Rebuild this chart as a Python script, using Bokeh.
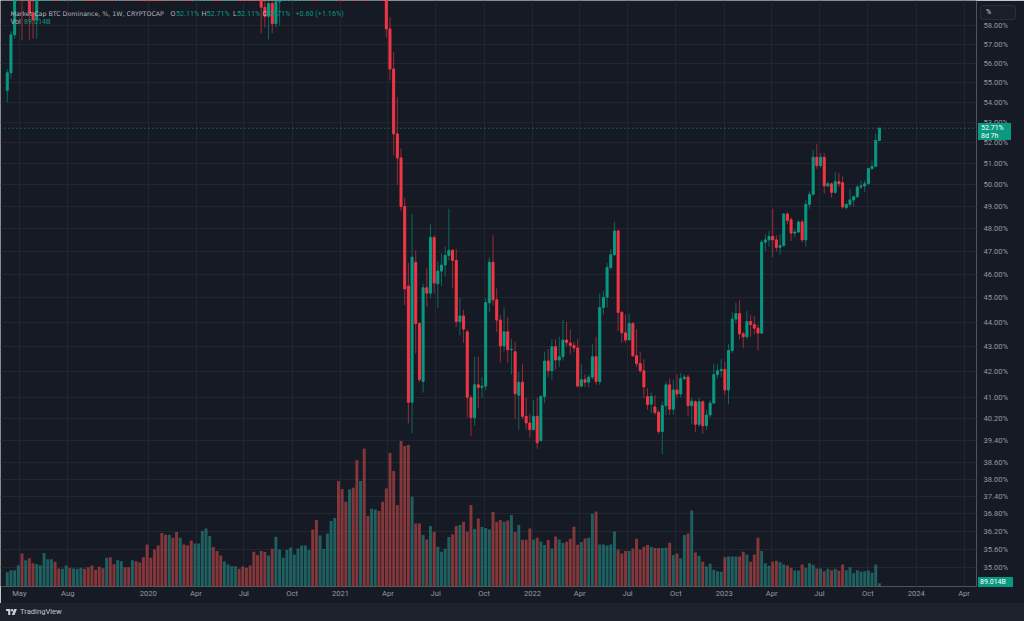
import datetime as dt
from bokeh.plotting import figure
from bokeh.models import (ColumnDataSource, Range1d, LinearScale, FixedTicker,
                          PrintfTickFormatter, Span, Label, Div)
from bokeh.layouts import column
from bokeh.embed import file_html
from bokeh.resources import INLINE

# ---------------- data (weekly bars, CRYPTOCAP:BTC.D) ----------------
first_week = dt.datetime(2019, 4, 8)

opens = [54.6, 55.5, 57.5, 59.8, 60.4, 59.9, 60.6, 58.7, 58.3, 60.8,
         62.0, 63.1, 63.9, 64.5, 63.7, 62.9, 64.3, 65.8, 65.1, 66.6,
         68.0, 69.2, 68.7, 68.3, 67.8, 67.1, 66.6, 66.0, 66.9, 66.4,
         65.9, 66.5, 67.3, 66.9, 66.4, 67.6, 67.0, 66.3, 65.6, 64.9,
         64.1, 63.4, 62.8, 62.3, 61.9, 62.7, 62.2, 61.8, 63.2, 62.7,
         62.3, 61.9, 63.0, 63.9, 64.7, 65.4, 66.1, 65.6, 65.0, 64.5,
         65.1, 65.7, 66.2, 66.8, 66.1, 65.3, 64.5, 63.6, 62.7, 61.8,
         59.0, 58.5, 59.2, 58.1, 59.3, 59.9, 60.6, 61.3, 62.0, 62.8,
         63.5, 64.2, 64.9, 65.5, 64.3, 63.2, 64.6, 66.5, 68.4, 69.6,
         70.8, 69.0, 65.5, 62.8, 64.0, 61.9, 60.8, 62.0, 61.2, 60.5,
         61.4, 62.0, 61.0, 60.0, 57.82, 55.7, 52.43, 51.27, 49.0, 45.5,
         40.83, 46.52, 43.94, 41.63, 45.43, 45.2, 47.6, 45.6, 46.14, 46.4,
         46.82, 47.04, 46.6, 44.02, 44.25, 43.6, 41.0, 40.25, 41.5, 41.4,
         41.45, 44.8, 46.52, 44.92, 44.08, 43.03, 43.6, 42.88, 42.8, 41.1,
         41.6, 40.3, 40.05, 39.8, 40.3, 39.4, 41.05, 42.43, 42.05, 43.0,
         42.47, 42.6, 43.27, 43.15, 43.05, 42.95, 41.45, 41.7, 41.6, 41.8,
         42.6, 41.63, 44.6, 45.03, 46.3, 46.85, 47.9, 44.4, 43.56, 43.27,
         43.94, 42.64, 42.33, 42.05, 41.05, 40.76, 40.65, 40.45, 39.73, 40.7,
         41.5, 40.57, 41.3, 41.15, 41.74, 41.8, 40.7, 40.85, 40.0, 40.85,
         39.95, 40.35, 40.8, 41.9, 42.05, 42.1, 41.3, 42.85, 44.12, 44.35,
         43.52, 43.4, 44.02, 43.9, 43.75, 43.55, 47.4, 47.5, 47.65, 47.5,
         47.17, 47.25, 48.66, 48.4, 47.8, 47.85, 48.3, 47.5, 49.1, 49.56,
         51.3, 50.9, 51.3, 49.95, 50.05, 49.65, 50.15, 50.1, 48.95, 49.1,
         49.3, 49.45, 49.9, 49.95, 50.05, 50.77, 50.87, 52.11]

highs = [55.7, 57.7, 60.3, 61.0, 60.9, 61.1, 61.0, 59.9, 61.2, 62.4,
         63.6, 64.3, 65.0, 64.9, 64.1, 64.7, 66.2, 66.3, 67.0, 68.4,
         69.7, 69.8, 69.1, 68.7, 68.2, 67.5, 67.0, 67.3, 67.3, 66.8,
         66.9, 67.7, 67.7, 67.3, 68.0, 68.0, 67.4, 66.7, 66.0, 65.3,
         64.5, 63.8, 63.2, 62.7, 63.1, 63.1, 62.6, 63.6, 63.6, 63.1,
         62.7, 63.4, 64.3, 65.1, 65.8, 66.5, 66.5, 66.0, 65.4, 65.5,
         66.1, 66.6, 67.2, 67.2, 66.5, 65.7, 64.9, 64.0, 63.1, 62.2,
         60.0, 59.9, 59.6, 59.8, 60.2, 61.0, 61.7, 62.4, 63.2, 63.9,
         64.6, 65.3, 65.9, 65.9, 64.7, 65.0, 66.9, 68.8, 70.0, 71.3,
         71.2, 69.4, 65.9, 64.4, 64.4, 62.3, 62.4, 62.4, 61.6, 61.8,
         62.4, 62.4, 61.4, 60.6, 58.45, 56.58, 54.25, 51.72, 49.4, 46.5,
         48.66, 47.05, 44.0, 45.6, 46.25, 48.2, 47.7, 46.57, 46.9, 47.2,
         48.9, 47.1, 47.1, 45.0, 44.5, 43.7, 41.1, 42.6, 42.6, 41.8,
         45.0, 46.74, 47.7, 45.4, 44.3, 44.6, 44.2, 43.3, 43.2, 42.0,
         42.3, 41.0, 40.4, 40.9, 41.0, 41.1, 42.8, 42.9, 43.3, 43.3,
         43.4, 44.1, 44.0, 43.7, 43.2, 43.3, 42.3, 41.9, 41.9, 43.1,
         43.4, 45.2, 45.3, 46.5, 47.1, 48.3, 47.95, 44.45, 44.3, 44.35,
         44.0, 43.7, 42.8, 42.5, 41.37, 41.2, 41.1, 40.55, 40.85, 41.63,
         41.75, 41.7, 41.9, 41.95, 41.9, 41.9, 41.0, 40.9, 41.0, 40.9,
         40.55, 40.9, 42.3, 42.3, 42.5, 42.4, 43.1, 44.4, 44.8, 44.9,
         43.6, 44.45, 44.3, 44.25, 43.9, 47.5, 47.75, 47.9, 48.9, 47.7,
         47.75, 48.7, 48.75, 48.5, 48.0, 48.4, 48.4, 49.3, 49.7, 51.67,
         51.95, 51.5, 51.5, 50.15, 50.1, 50.6, 50.55, 50.4, 49.15, 49.8,
         49.5, 50.0, 50.2, 50.2, 50.8, 51.15, 52.45, 52.71]

lows = [54.0, 55.2, 57.3, 59.6, 57.2, 59.5, 57.2, 57.3, 57.3, 60.5,
        61.7, 62.7, 63.5, 63.3, 62.5, 62.6, 64.0, 64.7, 64.8, 66.2,
        67.7, 68.3, 67.9, 67.4, 66.7, 66.2, 65.6, 65.7, 66.0, 65.5,
        65.6, 66.2, 66.5, 66.0, 66.1, 66.6, 65.9, 65.2, 64.5, 63.7,
        63.0, 62.4, 61.9, 61.5, 61.6, 61.8, 61.4, 61.5, 62.3, 61.9,
        61.5, 61.6, 62.7, 63.6, 64.4, 65.1, 65.2, 64.6, 64.1, 64.2,
        64.8, 65.4, 65.9, 65.7, 64.9, 64.1, 63.2, 62.3, 61.4, 57.6,
        57.9, 57.25, 57.6, 57.9, 58.0, 59.5, 60.3, 61.0, 61.7, 62.5,
        63.2, 63.9, 64.6, 63.9, 62.8, 62.9, 64.3, 66.2, 68.1, 69.3,
        68.6, 64.9, 62.2, 62.5, 61.4, 60.3, 60.5, 60.8, 60.1, 60.2,
        61.1, 60.6, 59.6, 57.35, 55.1, 51.38, 50.0, 48.8, 44.7, 40.03,
        39.67, 42.72, 41.6, 41.2, 44.63, 44.99, 45.2, 44.57, 45.5, 45.9,
        46.6, 45.4, 43.8, 43.46, 43.15, 40.25, 39.55, 39.95, 40.6, 41.0,
        41.3, 44.4, 44.7, 43.6, 42.37, 42.8, 42.35, 41.9, 40.2, 39.8,
        40.2, 39.8, 39.5, 39.8, 39.1, 39.35, 40.8, 41.8, 41.7, 42.1,
        42.2, 42.45, 43.0, 42.7, 42.8, 41.4, 41.4, 41.4, 41.4, 41.7,
        41.5, 41.5, 44.3, 44.6, 46.2, 46.8, 43.64, 43.16, 43.16, 43.27,
        42.6, 42.2, 41.95, 40.97, 40.55, 40.42, 40.35, 39.64, 38.9, 40.35,
        40.35, 40.35, 41.0, 41.0, 41.7, 40.3, 40.0, 39.7, 39.9, 39.64,
        39.8, 40.25, 40.78, 41.75, 41.8, 41.1, 40.75, 42.75, 43.95, 43.3,
        42.96, 43.3, 43.4, 43.5, 42.85, 43.5, 47.0, 47.2, 46.74, 47.0,
        46.85, 47.2, 48.2, 47.45, 47.6, 47.8, 47.4, 47.2, 48.9, 49.5,
        50.75, 50.8, 49.6, 49.9, 49.4, 49.6, 49.9, 48.9, 48.85, 49.0,
        49.0, 49.4, 49.8, 49.65, 50.0, 50.7, 50.85, 52.11]

closes = [55.5, 57.5, 59.8, 60.4, 59.9, 60.6, 58.7, 58.3, 60.8, 62.0,
          63.1, 63.9, 64.5, 63.7, 62.9, 64.3, 65.8, 65.1, 66.6, 68.0,
          69.2, 68.7, 68.3, 67.8, 67.1, 66.6, 66.0, 66.9, 66.4, 65.9,
          66.5, 67.3, 66.9, 66.4, 67.6, 67.0, 66.3, 65.6, 64.9, 64.1,
          63.4, 62.8, 62.3, 61.9, 62.7, 62.2, 61.8, 63.2, 62.7, 62.3,
          61.9, 63.0, 63.9, 64.7, 65.4, 66.1, 65.6, 65.0, 64.5, 65.1,
          65.7, 66.2, 66.8, 66.1, 65.3, 64.5, 63.6, 62.7, 61.8, 59.0,
          58.5, 59.2, 58.1, 59.3, 59.9, 60.6, 61.3, 62.0, 62.8, 63.5,
          64.2, 64.9, 65.5, 64.3, 63.2, 64.6, 66.5, 68.4, 69.6, 70.8,
          69.0, 65.5, 62.8, 64.0, 61.9, 60.8, 62.0, 61.2, 60.5, 61.4,
          62.0, 61.0, 60.0, 57.82, 55.7, 52.43, 51.27, 49.0, 45.38, 40.83,
          46.74, 43.94, 41.7, 45.43, 45.2, 47.61, 45.63, 46.14, 46.4, 46.82,
          47.04, 46.6, 44.02, 44.25, 43.71, 41.02, 40.25, 41.5, 41.4, 41.45,
          44.8, 46.52, 44.92, 44.08, 43.03, 43.6, 42.88, 42.9, 41.16, 41.6,
          40.3, 40.05, 39.8, 40.3, 39.32, 41.05, 42.43, 42.05, 43.0, 42.47,
          42.6, 43.27, 43.17, 43.05, 42.95, 41.45, 41.7, 41.6, 41.8, 42.6,
          41.63, 44.6, 45.03, 46.3, 46.85, 47.9, 44.4, 43.56, 43.27, 43.94,
          42.64, 42.33, 42.05, 41.42, 40.74, 41.05, 40.45, 39.73, 40.7, 41.5,
          40.57, 41.3, 41.15, 41.74, 41.8, 40.7, 40.87, 40.0, 40.85, 39.95,
          40.35, 40.8, 41.9, 42.05, 42.1, 41.3, 42.85, 44.12, 44.35, 43.52,
          43.4, 44.02, 43.9, 43.75, 43.55, 47.4, 47.5, 47.65, 47.5, 47.17,
          47.25, 48.66, 48.37, 47.8, 47.85, 48.3, 47.5, 49.1, 49.56, 51.3,
          50.9, 51.3, 49.95, 50.05, 49.65, 50.15, 50.05, 48.98, 49.1, 49.3,
          49.45, 49.9, 49.95, 50.05, 50.77, 50.87, 52.11, 52.71]

volumes_bn = [387, 441, 441, 576, 891, 711, 765, 630, 603, 576,
              900, 738, 738, 666, 486, 477, 567, 504, 486, 477,
              504, 477, 522, 567, 450, 531, 495, 774, 792, 603,
              711, 684, 522, 522, 711, 684, 648, 792, 1134, 774,
              999, 1107, 1440, 1395, 1395, 1314, 1467, 1314, 1134, 1107,
              1242, 1161, 1161, 1494, 1566, 1359, 1062, 954, 837, 675,
              594, 549, 549, 477, 540, 504, 567, 936, 846, 954,
              927, 837, 1017, 1341, 999, 774, 990, 1053, 864, 1026,
              1107, 1107, 981, 1539, 1791, 1377, 1008, 1431, 1764, 1845,
              2844, 2628, 2286, 2619, 2664, 3402, 2844, 3717, 1899, 2097,
              2079, 2034, 2286, 2646, 3600, 3114, 2196, 3924, 3789, 3816,
              2421, 1701, 1701, 1386, 1269, 1629, 1476, 1071, 936, 1017,
              1332, 1404, 1629, 1656, 1746, 1485, 2196, 1548, 1836, 1602,
              1575, 1539, 2007, 1746, 1791, 1746, 1782, 1926, 1467, 1656,
              1260, 1260, 1566, 1269, 1314, 1215, 1116, 1251, 1026, 1350,
              1269, 1170, 1206, 1287, 1611, 1125, 1197, 1296, 1314, 1962,
              2025, 1134, 1134, 1107, 1134, 1485, 999, 891, 954, 954,
              1026, 1287, 999, 1071, 1116, 1062, 1035, 1035, 1035, 1044,
              1179, 846, 891, 765, 1386, 1431, 2052, 918, 819, 666,
              540, 612, 450, 414, 396, 792, 810, 810, 810, 810,
              936, 864, 666, 864, 1314, 954, 630, 558, 666, 693,
              657, 594, 567, 504, 432, 432, 594, 504, 630, 585,
              486, 486, 414, 477, 441, 477, 432, 594, 441, 522,
              360, 441, 396, 414, 432, 369, 594, 89.014]

price_ticks = [35.00, 35.60, 36.20, 36.80, 37.40, 38.00, 38.60, 39.40, 40.20,
               41.00, 42.00, 43.00, 44.00, 45.00, 46.00, 47.00, 48.00, 49.00,
               50.00, 51.00, 52.00, 53.00, 54.00, 55.00, 56.00, 57.00, 58.00]

time_tick_dates = ["2019-05-01", "2019-08-01", "2020-01-01", "2020-04-01", "2020-07-01",
                   "2020-10-01", "2021-01-01", "2021-04-01", "2021-07-01", "2021-10-01",
                   "2022-01-01", "2022-04-01", "2022-07-01", "2022-10-01", "2023-01-01",
                   "2023-04-01", "2023-07-01", "2023-10-01", "2024-01-01", "2024-04-01"]
time_tick_labels = ["May", "Aug", "2020", "Apr", "Jul", "Oct", "2021", "Apr", "Jul", "Oct",
                    "2022", "Apr", "Jul", "Oct", "2023", "Apr", "Jul", "Oct", "2024", "Apr"]

title_text = "Market Cap BTC Dominance, %, 1W, CRYPTOCAP"
ohlc_letters = ["O", "H", "L", "C"]
ohlc_text = ["52.11%", "52.71%", "52.11%", "52.71%"]
change_text = "+0.60 (+1.16%)"
vol_text = "89.014B"
last_price = 52.71
last_price_text = "52.71%"
countdown_text = "8d 7h"

# ---------------- style ----------------
BG = "#161a25"
GRID = "#22262f"
UP = "#089981"
DOWN = "#f23645"
VOL_UP = "#26a69a"
VOL_DOWN = "#ef5350"
AXIS_TXT = "#9598a1"
FONT = "Roboto"

epoch = dt.datetime(1970, 1, 1)
def ms(d):
    return (d - epoch).total_seconds() * 1000.0

weeks = [first_week + dt.timedelta(days=7 * i) for i in range(len(opens))]
up = [c >= o for o, c in zip(opens, closes)]
src = ColumnDataSource(dict(
    x=weeks, o=opens, h=highs, l=lows, c=closes,
    top=[max(o, c) for o, c in zip(opens, closes)],
    bottom=[min(o, c) for o, c in zip(opens, closes)],
    color=[UP if u else DOWN for u in up],
    vcolor=[VOL_UP if u else VOL_DOWN for u in up],
    vol=volumes_bn,
))

DAY = 86400000.0
p = figure(width=1024, height=603, x_axis_type="datetime", y_axis_type="log",
           y_axis_location="right", output_backend="svg", toolbar_location=None,
           x_range=Range1d(first_week - dt.timedelta(days=12.9),
                           first_week + dt.timedelta(days=1843.7)),
           y_range=Range1d(34.39, 59.37),
           min_border_left=0, min_border_top=0, min_border_right=48, min_border_bottom=17,
           background_fill_color=BG, border_fill_color=BG, outline_line_color=None)

p.extra_y_ranges = {"vol": Range1d(0, 15800)}
p.extra_y_scales = {"vol": LinearScale()}

# volume
p.vbar(x="x", top="vol", bottom=0, width=5.6 * DAY, source=src, y_range_name="vol",
       fill_color="vcolor", fill_alpha=0.5, line_color=None)

# candles
p.segment(x0="x", y0="l", x1="x", y1="h", source=src, line_color="color",
          line_width=1, line_alpha=0.6)
p.vbar(x="x", top="top", bottom="bottom", width=3.8 * DAY, source=src,
       fill_color="color", line_color="color", line_width=1)

# last price dotted line
p.add_layout(Span(location=last_price, dimension="width", line_color=UP,
                  line_dash="1 3", line_width=1))

# axes
tick_ms = [ms(dt.datetime.strptime(d, "%Y-%m-%d")) for d in time_tick_dates]
xax = p.xaxis[0]
xax.ticker = FixedTicker(ticks=tick_ms)
xax.major_label_overrides = {t: lab for t, lab in zip(tick_ms, time_tick_labels)}
xax.axis_line_color = None
xax.major_tick_line_color = None
xax.minor_tick_line_color = None
xax.major_tick_out = 0
xax.major_label_standoff = 2
xax.major_label_text_color = AXIS_TXT
xax.major_label_text_font = FONT
xax.major_label_text_font_size = "7.6px"

yax = p.yaxis[0]
yax.ticker = FixedTicker(ticks=price_ticks)
yax.formatter = PrintfTickFormatter(format="%.2f%%")
yax.axis_line_color = None
yax.major_tick_line_color = None
yax.minor_tick_line_color = None
yax.major_tick_out = 0
yax.major_label_standoff = 7
yax.major_label_text_color = AXIS_TXT
yax.major_label_text_font = FONT
yax.major_label_text_font_size = "7.6px"

p.xgrid.ticker = FixedTicker(ticks=tick_ms)
p.ygrid.ticker = FixedTicker(ticks=price_ticks)
p.xgrid.grid_line_color = GRID
p.ygrid.grid_line_color = GRID

# legend (top-left)
def lab(x, y, text, color, size="7.2px", font=FONT):
    p.add_layout(Label(x=x, y=y, x_units="screen", text=text, text_color=color,
                       text_font=font, text_font_size=size, text_baseline="middle"))

row1 = 58.67
row2 = 58.20
lab(10, row1, title_text, "#b2b5be", size="6.3px", font="DejaVu Sans")
for xl, letter, xv, val in zip([170, 201, 232.5, 262], ohlc_letters,
                               [175.5, 206, 236.5, 266.5], ohlc_text):
    lab(xl, row1, letter, "#b2b5be")
    lab(xv, row1, val, UP)
lab(295, row1, change_text, UP)
lab(10, row2, "Vol", "#b2b5be")
lab(23.5, row2, vol_text, UP)

# bottom strip with logo + price-scale badges (HTML overlay, positioned over the scale)
badge = ("position:absolute;left:978px;background:#089981;color:#ffffff;"
         "font-family:Roboto,sans-serif;font-size:7px;box-sizing:border-box;z-index:10;")
html = (
    '<div style="position:relative;width:1024px;height:18px;background:#1e222d;">'
    '<div style="position:absolute;left:6px;top:0;height:18px;display:flex;align-items:center;'
    'font-family:Roboto,sans-serif;font-size:7.6px;color:#c3c6ce;">'
    '<svg width="11" height="6" viewBox="0 0 36 20" style="margin-right:3px">'
    '<path d="M0 0h14v20H7V7H0z" fill="#d1d4dc"/>'
    '<circle cx="20" cy="4" r="4" fill="#d1d4dc"/>'
    '<path d="M27 0h9l-8 20h-9z" fill="#d1d4dc"/></svg>'
    '<span>TradingView</span></div>'
    f'<div style="{badge}top:-480px;width:33px;height:17px;line-height:8px;padding:1px 0 0 3px;">'
    f'{last_price_text}<br>{countdown_text}</div>'
    f'<div style="{badge}top:-26px;width:35px;height:10px;line-height:10px;padding-left:2px;">'
    f'{vol_text}</div>'
    '<div style="position:absolute;left:980px;top:-598px;width:36px;height:15px;box-sizing:border-box;'
    'border:1px solid #2a2e39;border-radius:3px;background:#1a1e29;color:#d1d4dc;'
    'font-family:Roboto,sans-serif;font-size:7px;line-height:13px;padding-left:5px;z-index:10;">%</div>'
    '</div>'
)
logo = Div(text=html, width=1024, height=18, margin=0)

layout = column(p, logo, spacing=0)
open("out.html", "w").write(file_html(layout, INLINE))
